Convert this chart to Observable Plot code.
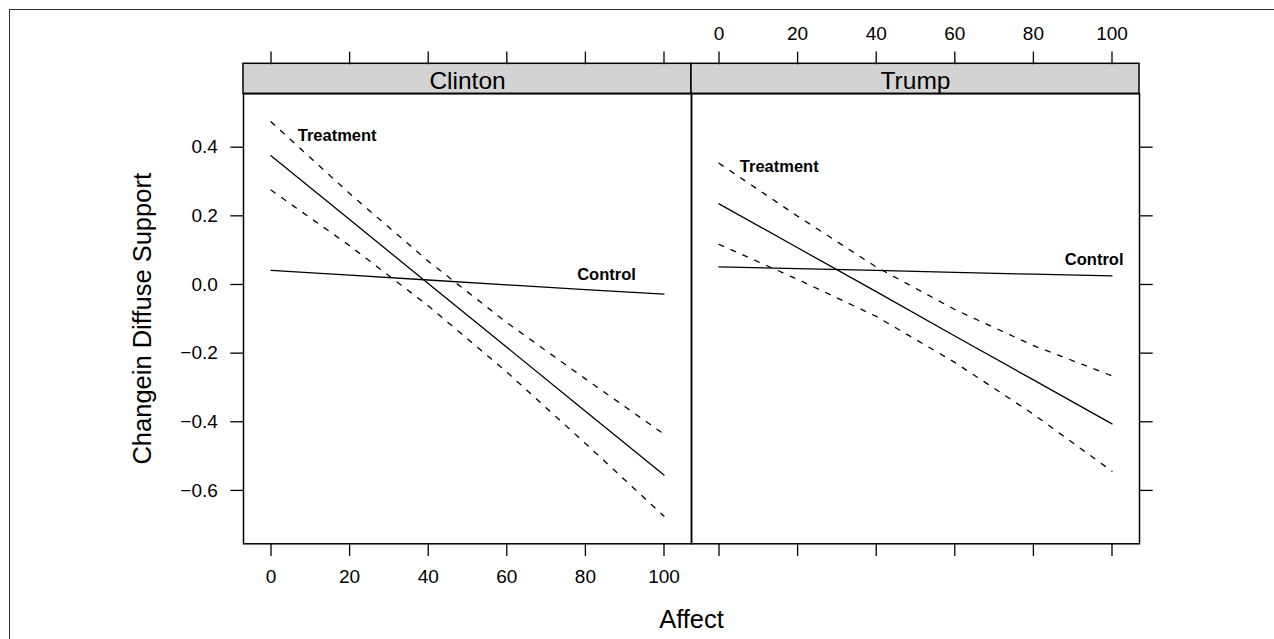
<!DOCTYPE html>
<html>
<head>
<meta charset="utf-8">
<script src="https://cdn.jsdelivr.net/npm/d3@7"></script>
<script src="https://cdn.jsdelivr.net/npm/@observablehq/plot@0.6"></script>
<style>
html, body { margin: 0; padding: 0; background: #fff; overflow: hidden; }
#wrap { position: relative; width: 1274px; height: 639px; }
#border { position: absolute; left: 9px; top: 9px; width: 1300px; height: 700px; border: 1.5px solid #333; box-sizing: border-box; pointer-events: none; }
</style>
</head>
<body>
<div id="wrap"><div id="border"></div></div>
<script>
// ---- data ----
const panels = ["Clinton", "Trump"];
const affect = [0, 20, 40, 60, 80, 100];

const clintonTreatment = [0.375, 0.189, 0.003, -0.183, -0.369, -0.555];
const clintonUpper     = [0.474, 0.265, 0.068, -0.111, -0.275, -0.436];
const clintonLower     = [0.275, 0.113, -0.062, -0.255, -0.463, -0.675];
const clintonControl   = [0.041, 0.027, 0.013, -0.001, -0.015, -0.028];

const trumpTreatment = [0.235, 0.107, -0.021, -0.150, -0.278, -0.406];
const trumpUpper     = [0.353, 0.199, 0.051, -0.073, -0.178, -0.266];
const trumpLower     = [0.117, 0.015, -0.093, -0.227, -0.378, -0.544];
const trumpControl   = [0.051, 0.046, 0.041, 0.035, 0.030, 0.025];

const xTicks = [0, 20, 40, 60, 80, 100];
const yTicks = [-0.6, -0.4, -0.2, 0.0, 0.2, 0.4];

const labelPanel = ["Clinton", "Trump", "Clinton", "Trump"];
const labelText  = ["Treatment", "Treatment", "Control", "Control"];
const labelX     = [6.8, 5.3, 77.9, 88.0];
const labelY     = [0.4175, 0.327, 0.0138, 0.0574];

const xDomain = [-7, 107];
const yDomain = [-0.7555, 0.5555];

// ---- tables built from the arrays ----
function rows(panel, series, values) {
  return affect.map((a, i) => ({panel, series, affect: a, value: values[i]}));
}
const solidRows = [
  ...rows("Clinton", "Treatment", clintonTreatment),
  ...rows("Clinton", "Control", clintonControl),
  ...rows("Trump", "Treatment", trumpTreatment),
  ...rows("Trump", "Control", trumpControl)
];
const dashedRows = [
  ...rows("Clinton", "Upper", clintonUpper),
  ...rows("Clinton", "Lower", clintonLower),
  ...rows("Trump", "Upper", trumpUpper),
  ...rows("Trump", "Lower", trumpLower)
];
const labelRows = labelText.map((t, i) => ({panel: labelPanel[i], label: t, affect: labelX[i], value: labelY[i]}));

const fmt = d3.format(".1f");
const TS = 12.7;   // tick length
const SW = 1.3;    // line width
const FW = 1.5;    // frame width

const chart = Plot.plot({
  width: 1274,
  height: 639,
  marginLeft: 242.7,
  marginRight: 134,
  marginTop: 93.3,
  marginBottom: 95.7,
  style: {fontFamily: "'Liberation Sans', Arial, Helvetica, sans-serif", color: "black", background: "transparent"},
  x: {domain: xDomain, axis: null},
  y: {domain: yDomain, axis: null},
  fx: {domain: panels, padding: 0, axis: null},
  marks: [
    // strips
    Plot.rect(panels, {fx: d => d, insetTop: -30, insetBottom: 450, fill: "#d3d3d3", stroke: "black", strokeWidth: FW}),
    Plot.text(panels, {fx: d => d, text: d => d, frameAnchor: "top", dy: -5, lineAnchor: "bottom", fontSize: 24.5}),
    // panel frames
    Plot.frame({stroke: "black", strokeWidth: FW}),
    // axes
    Plot.axisX(xTicks, {anchor: "bottom", facetAnchor: "bottom-left", tickSize: TS, tickPadding: 13.3, fontSize: 19, strokeWidth: SW, label: null}),
    Plot.axisX(xTicks, {anchor: "bottom", facetAnchor: "bottom-right", tickSize: TS, fill: "none", strokeWidth: SW, label: null}),
    Plot.axisX(xTicks, {anchor: "top", facetAnchor: "top-left", tickSize: TS, fill: "none", dy: -30, strokeWidth: SW, label: null}),
    Plot.axisX(xTicks, {anchor: "top", facetAnchor: "top-right", tickSize: TS, tickPadding: 11.3, dy: -30, fontSize: 19, strokeWidth: SW, label: null}),
    Plot.axisY(yTicks, {anchor: "left", facetAnchor: "left", tickSize: TS, tickPadding: 13, fontSize: 19, tickFormat: fmt, strokeWidth: SW, label: null}),
    Plot.axisY(yTicks, {anchor: "right", facetAnchor: "right", tickSize: TS, fill: "none", strokeWidth: SW, label: null}),
    // data
    Plot.line(solidRows, {fx: "panel", x: "affect", y: "value", z: "series", stroke: "black", strokeWidth: SW}),
    Plot.line(dashedRows, {fx: "panel", x: "affect", y: "value", z: "series", stroke: "black", strokeWidth: SW, strokeDasharray: "5,8"}),
    Plot.text(labelRows, {fx: "panel", x: "affect", y: "value", text: "label", textAnchor: "start", lineAnchor: "bottom", fontWeight: "bold", fontSize: 16.5}),
    // titles
    Plot.text(["Affect"], {facet: "super", frameAnchor: "bottom", dy: 84, lineAnchor: "bottom", fontSize: 25.5}),
    Plot.text(["Changein Diffuse Support"], {facet: "super", frameAnchor: "left", dx: -92.7, rotate: -90, textAnchor: "middle", lineAnchor: "bottom", fontSize: 25.5})
  ]
});
document.getElementById("wrap").prepend(chart);
</script>
</body>
</html>
